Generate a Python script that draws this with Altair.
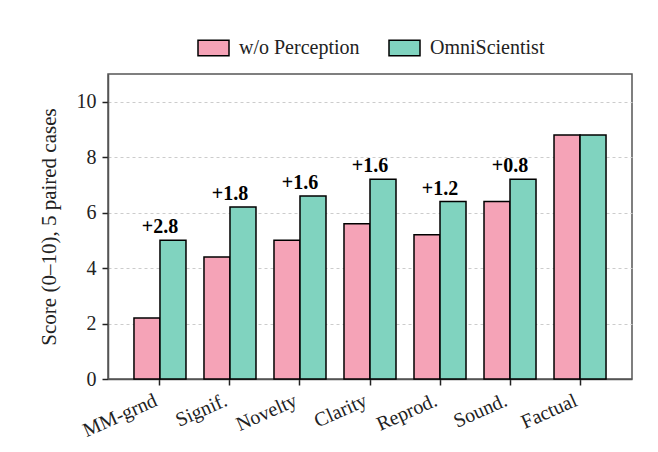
import altair as alt
import pandas as pd

# ── Data ───────────────────────────────────────────────────────────
METRICS = ["MM-grnd", "Signif.", "Novelty", "Clarity", "Reprod.", "Sound.", "Factual"]
WO_PERCEPTION = [2.2, 4.4, 5.0, 5.6, 5.2, 6.4, 8.8]
OMNISCIENTIST = [5.0, 6.2, 6.6, 7.2, 6.4, 7.2, 8.8]
GAINS = ["+2.8", "+1.8", "+1.6", "+1.6", "+1.2", "+0.8", ""]
SERIES = ["w/o Perception", "OmniScientist"]
Y_TICKS = [0, 2, 4, 6, 8, 10]

# ── Style tokens ──────────────────────────────────────────────────
PINK = "#F5A3B7"
TEAL = "#80D3BF"
FRAME = "#555555"
INK = "#222222"
FONT = "Liberation Serif"
FS = 20

rows = []
for m, a, b in zip(METRICS, WO_PERCEPTION, OMNISCIENTIST):
    rows.append({"metric": m, "series": SERIES[0], "score": a})
    rows.append({"metric": m, "series": SERIES[1], "score": b})
bars_df = pd.DataFrame(rows)

gain_df = pd.DataFrame({
    "metric": METRICS,
    "top": [max(a, b) for a, b in zip(WO_PERCEPTION, OMNISCIENTIST)],
    "gain": GAINS,
})

x_enc = alt.X(
    "metric:N",
    sort=METRICS,
    scale=alt.Scale(paddingInner=0.257, paddingOuter=0.371),
    axis=alt.Axis(
        title=None,
        labelAngle=-24,
        labelAlign="right",
        labelBaseline="top",
        labelPadding=5,
        labelOffset=-8,
    ),
)

bars = alt.Chart(bars_df).mark_bar(stroke="black", strokeWidth=1.5).encode(
    x=x_enc,
    xOffset=alt.XOffset("series:N", sort=SERIES),
    y=alt.Y(
        "score:Q",
        scale=alt.Scale(domain=[0, 11], nice=False),
        axis=alt.Axis(
            values=Y_TICKS,
            title="Score (0–10), 5 paired cases",
            titleFontSize=21,
            titlePadding=17,
            labelPadding=6,
            grid=True,
            gridDash=[3, 3],
            gridColor="#cccccc",
            gridWidth=1,
        ),
    ),
    color=alt.Color(
        "series:N",
        sort=SERIES,
        scale=alt.Scale(domain=SERIES, range=[PINK, TEAL]),
        legend=alt.Legend(
            title=None,
            orient="none",
            direction="horizontal",
            legendX=89,
            legendY=-43,
            symbolType="M-1,-0.5H1V0.5H-1Z",
            symbolSize=961,
            symbolStrokeColor="black",
            symbolStrokeWidth=1.5,
            symbolOpacity=1,
            labelOffset=9,
            columnPadding=26,
            labelFont=FONT,
            labelFontSize=FS,
            labelColor=INK,
        ),
    ),
)

labels = alt.Chart(gain_df).mark_text(
    font=FONT, fontSize=FS, fontWeight="bold", color="black",
    baseline="alphabetic", dy=-7,
).encode(
    x=alt.X("metric:N", sort=METRICS),
    y="top:Q",
    text="gain:N",
)

chart = (
    alt.layer(bars, labels)
    .properties(
        width=524,
        height=305,
        padding={"left": 100, "top": 66, "right": 18, "bottom": 65},
        autosize=alt.AutoSizeParams(type="none"),
    )
    .configure_view(stroke=FRAME, strokeWidth=1.5)
    .configure_axis(
        domainColor=FRAME,
        domainWidth=1.5,
        tickColor=INK,
        tickWidth=1.5,
        tickSize=6,
        labelFont=FONT,
        labelFontSize=FS,
        labelColor=INK,
        titleFont=FONT,
        titleFontSize=FS,
        titleFontWeight="normal",
        titleColor=INK,
    )
)

chart.save("out.html", embed_options={"renderer": "svg", "actions": False})
